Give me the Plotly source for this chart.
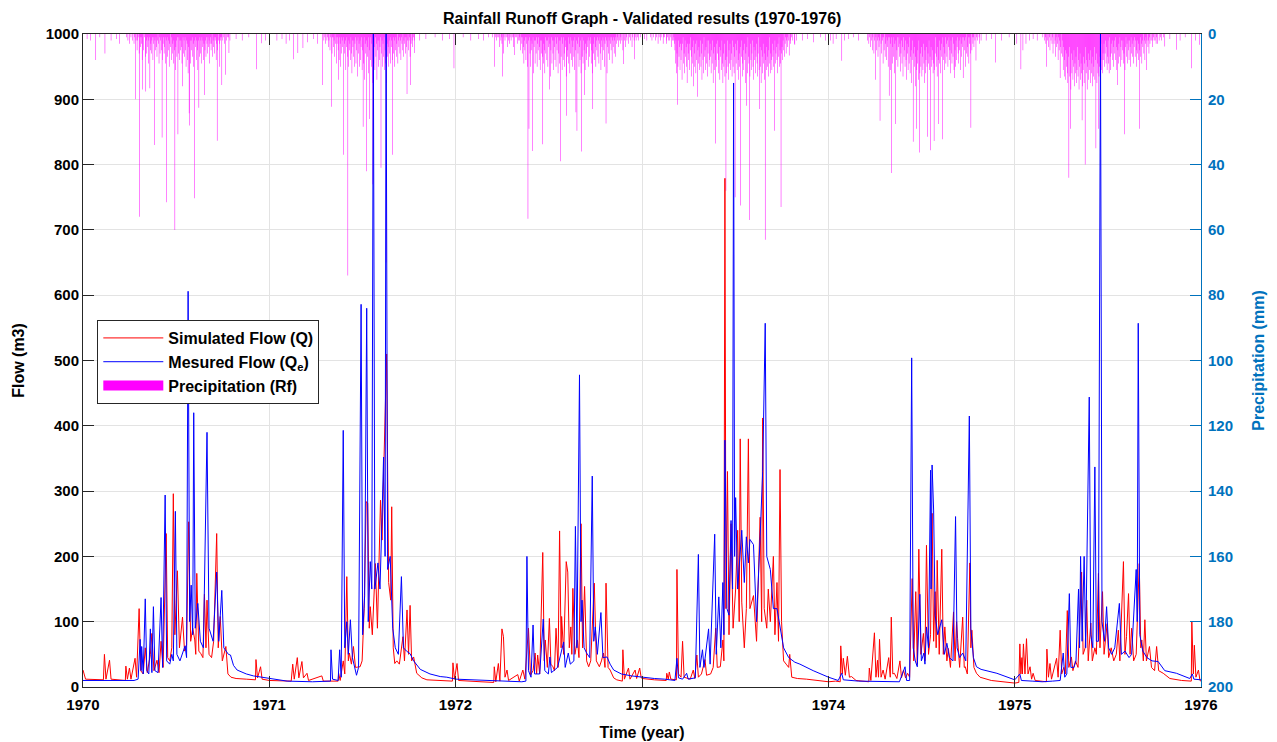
import numpy as np
import pandas as pd
import plotly.graph_objects as go

# ---------------- DATA ----------------
# day index counted from 1970-01-01
year_ticks = [1970, 1971, 1972, 1973, 1974, 1975, 1976]

# Simulated flow (Q), (day, m3) pairs
sim_1970 = [(0,26),(5,12),(40,11),(42,50),(45,12),(52,41),(55,12),(83,10),(84,32),(87,12),(91,29),(94,12),(102,44),(105,15),(110,120),(113,25),(118,20),(122,60),(126,22),(132,50),(135,82),(139,25),(145,41),(149,22),(153,70),(157,30),(163,235),(166,45),(170,40),(174,60),(177,296),(180,80),(185,178),(189,60),(195,107),(199,55),(203,65),(207,253),(211,70),(215,90),(219,72),(221,50),(223,174),(227,55),(231,51),(235,45),(238,142),(241,60),(243,133),(247,50),(252,45),(256,70),(262,235),(265,60),(269,108),(273,40),(280,62),(284,20),(290,15),(300,13),(320,12),(338,11),(339,42),(342,14),(348,31),(351,12)]
sim_1971 = [(365,10),(408,9),(411,35),(414,12),(420,45),(423,14),(429,39),(432,14),(439,21),(442,10),(468,17),(471,9),(500,9),(501,21),(504,10),(510,40),(513,20),(517,169),(520,40),(522,52),(526,35),(530,62),(534,30),(543,31),(547,40),(551,120),(555,284),(558,281),(561,90),(563,123),(567,80),(573,189),(577,90),(583,286),(586,225),(590,355),(595,510),(599,160),(603,133),(605,276),(608,60),(611,36),(615,40),(620,35),(627,77),(630,40),(635,118),(638,50),(641,125),(644,40),(648,46),(654,21),(664,14),(674,11),(700,10),(724,9),(725,37),(728,12),(733,36)]
sim_1972 = [(736,10),(780,8),(805,7),(806,31),(809,8),(814,36),(817,9),(821,89),(824,77),(827,15),(831,26),(834,10),(852,19),(855,9),(862,26),(866,12),(873,90),(877,18),(882,25),(886,52),(889,20),(891,49),(895,20),(901,206),(904,40),(906,72),(910,30),(914,105),(917,35),(921,31),(924,25),(927,90),(931,30),(934,239),(937,60),(938,108),(942,50),(947,192),(950,176),(953,60),(956,92),(958,50),(960,151),(964,50),(969,72),(972,45),(976,250),(979,60),(983,154),(987,40),(991,31),(995,40),(1002,159),(1006,40),(1012,31),(1016,40),(1020,52),(1023,30),(1025,159),(1029,30),(1033,26),(1040,14),(1046,11),(1057,9),(1058,57),(1061,12),(1069,29),(1072,12),(1082,26),(1085,13),(1091,29),(1094,14)]
sim_1973 = [(1096,13),(1120,11),(1143,10),(1144,21),(1147,12),(1149,23),(1152,12),(1163,11),(1164,180),(1167,20),(1172,15),(1175,70),(1178,15),(1190,12),(1196,26),(1199,13),(1203,49),(1206,15),(1212,20),(1219,42),(1222,18),(1230,20),(1235,30),(1240,90),(1243,30),(1249,31),(1254,72),(1256,40),(1258,779),(1260,120),(1263,330),(1266,80),(1270,250),(1274,90),(1279,150),(1283,240),(1286,100),(1288,380),(1291,130),(1296,60),(1300,120),(1304,380),(1307,120),(1314,140),(1320,70),(1327,260),(1330,100),(1332,412),(1335,120),(1340,90),(1343,150),(1347,100),(1353,200),(1356,80),(1360,160),(1363,70),(1366,333),(1369,100),(1373,40),(1378,35),(1383,30),(1385,50),(1389,15),(1400,13),(1418,12)]
sim_1974 = [(1461,8),(1475,9),(1484,8),(1485,63),(1488,20),(1490,44),(1494,18),(1498,47),(1502,15),(1506,16),(1515,10),(1540,8),(1541,29),(1544,10),(1551,83),(1554,15),(1557,41),(1559,15),(1561,73),(1564,15),(1568,26),(1572,12),(1579,45),(1582,15),(1584,107),(1587,20),(1590,21),(1595,13),(1601,40),(1604,14),(1608,26),(1612,14),(1616,21),(1620,15),(1625,166),(1628,40),(1632,146),(1635,35),(1638,211),(1642,50),(1647,82),(1650,40),(1653,217),(1657,50),(1661,80),(1664,266),(1667,70),(1670,146),(1672,60),(1674,194),(1678,50),(1683,211),(1686,50),(1689,92),(1693,40),(1696,59),(1700,30),(1706,115),(1709,40),(1712,100),(1714,74),(1718,30),(1724,107),(1727,30),(1729,31),(1733,20),(1738,190),(1740,60),(1742,87),(1746,30),(1751,21),(1758,15),(1780,10)]
sim_1975 = [(1826,6),(1834,7),(1836,66),(1838,20),(1840,45),(1841,20),(1843,66),(1846,20),(1849,74),(1852,20),(1856,31),(1859,12),(1862,21),(1866,10),(1888,8),(1889,58),(1892,15),(1895,36),(1898,12),(1908,44),(1911,15),(1915,87),(1918,20),(1922,30),(1925,20),(1929,117),(1932,30),(1937,46),(1940,25),(1945,40),(1950,30),(1957,176),(1960,50),(1964,60),(1967,133),(1970,40),(1975,98),(1978,40),(1983,60),(1986,50),(1990,174),(1993,60),(1998,146),(2001,50),(2007,97),(2010,45),(2015,60),(2020,40),(2025,50),(2029,87),(2032,40),(2039,192),(2042,50),(2045,77),(2049,143),(2052,50),(2055,90),(2059,40),(2064,50),(2070,189),(2073,60),(2075,72),(2078,40),(2081,103),(2084,40),(2090,62),(2094,30),(2100,25),(2104,62),(2108,25),(2117,21),(2130,13),(2153,10),(2172,9),(2173,100),(2176,20),(2178,64),(2181,15),(2186,26),(2189,10),(2191,9)]

# Measured flow (Qe), (day, m3) pairs
obs_1970 = [(0,10),(30,10),(60,9),(100,10),(108,12),(112,73),(114,25),(115,62),(118,20),(122,135),(125,25),(129,20),(132,89),(135,22),(138,123),(141,25),(147,22),(153,137),(156,30),(161,294),(164,40),(170,35),(174,50),(177,40),(181,269),(184,50),(190,40),(195,50),(200,63),(203,45),(206,606),(209,100),(212,156),(215,80),(217,420),(220,90),(225,128),(230,70),(236,60),(243,390),(247,90),(255,70),(262,176),(266,70),(272,148),(276,60),(285,50),(289,49),(295,33),(302,26),(320,20),(334,17)]
obs_1971 = [(365,13),(400,9),(450,8),(485,9),(486,57),(489,12),(500,10),(503,57),(506,15),(510,393),(513,60),(517,100),(520,50),(524,103),(528,45),(536,18),(540,30),(545,586),(548,80),(552,140),(556,580),(559,100),(563,192),(566,150),(569,1000),(572,150),(578,190),(582,150),(586,260),(589,352),(592,200),(594,1000),(597,180),(602,200),(607,90),(612,60),(618,50),(624,169),(628,60),(634,55),(641,51),(648,40),(661,27),(680,20),(700,16),(713,15)]
obs_1972 = [(731,12),(760,11),(800,9),(830,8),(860,8),(868,9),(870,200),(873,25),(878,15),(882,95),(885,20),(895,20),(902,104),(905,25),(912,20),(915,46),(918,22),(930,30),(942,69),(945,30),(951,52),(955,35),(962,40),(965,246),(968,60),(973,478),(976,100),(978,133),(982,60),(987,52),(993,45),(998,323),(1001,70),(1004,92),(1008,50),(1015,114),(1019,45),(1027,46),(1033,35),(1040,26),(1055,20),(1075,17)]
obs_1973 = [(1096,15),(1120,13),(1140,12),(1160,10),(1164,44),(1167,14),(1175,12),(1183,21),(1186,12),(1200,14),(1206,203),(1209,30),(1214,57),(1217,30),(1226,89),(1229,35),(1238,234),(1241,50),(1246,138),(1250,60),(1254,160),(1256,80),(1258,378),(1262,120),(1266,110),(1270,255),(1273,150),(1275,925),(1277,200),(1279,290),(1283,150),(1291,240),(1296,160),(1300,230),(1304,190),(1307,226),(1314,218),(1320,100),(1327,230),(1332,330),(1337,557),(1340,200),(1347,180),(1353,120),(1360,120),(1366,90),(1370,75),(1373,60),(1383,45),(1395,38),(1405,35),(1431,25)]
obs_1974 = [(1461,15),(1480,10),(1487,21),(1490,11),(1520,9),(1560,8),(1600,8),(1611,31),(1614,10),(1620,10),(1624,504),(1627,60),(1631,40),(1635,31),(1640,142),(1643,40),(1648,52),(1650,35),(1653,92),(1657,60),(1661,332),(1662,150),(1664,340),(1667,271),(1670,110),(1675,80),(1683,103),(1688,50),(1693,67),(1698,45),(1705,40),(1710,261),(1713,60),(1718,45),(1724,52),(1730,40),(1737,415),(1740,90),(1745,45),(1751,31),(1760,27),(1791,21)]
obs_1975 = [(1826,11),(1836,20),(1839,10),(1860,9),(1880,8),(1900,9),(1915,10),(1921,52),(1924,15),(1928,20),(1933,143),(1936,30),(1942,30),(1946,40),(1951,150),(1953,60),(1955,200),(1958,70),(1962,200),(1965,60),(1972,444),(1975,80),(1979,60),(1983,337),(1986,70),(1990,70),(1994,1000),(1997,100),(2002,70),(2006,123),(2010,60),(2016,50),(2022,60),(2031,128),(2035,50),(2042,55),(2050,45),(2055,50),(2064,180),(2066,100),(2068,557),(2071,80),(2077,55),(2085,45),(2095,40),(2107,39),(2120,25),(2143,21),(2169,13),(2174,20),(2177,12),(2191,11)]

# Precipitation (Rf): daily values (mm) in each wet season, starting day + list
rain_1970_start = 84
rain_1970 = [0,1,0,0,2,0,0,3,0,0, 1,0,0,2,0,0,3,1,0,4, 2,0,5,2,1,0,6,3,1,4, 1,3,8,2,0,5,1,0,7,3,
             2,6,1,4,9,2,1,0,5,3, 6,2,1,8,3,1,10,2,5,1, 4,7,2,0,3,9,1,6,2,1, 5,2,8,3,1,6,4,1,9,2,
             3,1,7,5,2,10,3,0,4,8, 1,6,3,9,2,5,1,11,4,2, 7,1,3,6,1,8,2,5,2,4, 9,3,1,6,2,7,1,5,10,2,
             3,8,12,4,1,6,2,9,2,5, 1,7,3,10,2,6,4,1,8,2, 5,11,2,3,7,1,6,2,9,1, 4,2,8,3,1,5,2,7,1,3,
             6,1,4,2,9,3,1,5,3,0, 7,2,4,1,6,2,1,8,3,1, 5,2,0,3,10,1,2,1,4,0, 2,0,1,3,0,1,0,2,0,1,
             0,1,0,0,2,0,0]
rain_1971_start = 470
rain_1971 = [0,0,2,0,1,3,0,0,2,1, 0,4,2,0,5,1,0,3,6,1, 1,4,2,7,0,3,1,9,3,1, 5,2,8,1,3,10,1,6,2,4,
             1,9,3,6,2,11,4,1,7,2, 10,2,5,3,8,1,6,12,2,4, 7,2,10,3,1,9,5,2,13,1, 6,3,10,2,8,4,1,11,5,2,
             9,1,14,3,6,2,10,4,7,1, 12,2,5,8,1,10,3,15,6,2, 9,4,11,1,7,3,14,5,2,10, 2,8,4,1,12,6,2,10,3,7,
             1,11,5,9,2,15,3,7,4,10, 2,6,1,9,4,2,8,3,1,6, 10,2,5,1,7,3,0,9,2,4, 1,6,2,8,1,3,5,0,7,2,
             3,1,6,1,4,9,2,0,5,2, 1,7,0,3,0,2,4,0,1,2, 0]
rain_1972_start = 800
rain_1972 = [0,0,0,1,0,0,2,0,0,1, 2,0,0,1,0,1,4,0,0,2, 1,3,0,0,6,1,0,2,0,1, 0,1,4,0,2,0,3,1,0,2,
             0,1,0,1,4,0,2,0,1,0, 1,3,0,2,0,2,1,5,0,1, 3,6,1,4,9,2,5,1,8,3, 1,10,4,2,7,1,6,10,2,5,
             3,8,1,12,4,2,9,2,6,1, 10,3,5,1,8,4,11,2,6,2, 7,1,9,3,5,12,1,6,2,8, 2,10,4,1,7,3,13,5,1,9,
             2,6,11,2,4,8,1,10,3,5, 1,12,6,2,9,2,5,7,1,11, 3,8,1,6,10,2,4,13,2,7, 5,1,9,3,12,6,1,8,2,10,
             4,2,7,11,1,5,9,2,14,3, 6,1,10,4,8,2,12,3,1,7, 9,2,5,1,11,3,6,8,2,4, 1,10,2,7,3,1,9,5,12,2,
             6,3,1,8,4,10,2,5,1,7, 2,9,3,1,6,11,2,4,8,1, 5,2,10,3,1,7,2,12,4,1, 6,2,8,1,3,5,1,9,2,4,
             1,6,2,1,7,0,3,2,1,4, 0,2,0,3,1,0,2,0,5,1, 0,2,0,4,0,1,2,0,0,3, 0,1,0,2,0,0,4,1,0,0,
             2,0,1,0,2,0,0,1,0,2, 0,0,1]
rain_1973_start = 1110
rain_1973 = [0,0,1,0,0,2,0,0,1,0, 0,0,2,0,1,0,0,3,0,1, 0,0,2,1,0,0,0,3,1,0, 1,0,0,2,3,0,1,0,2,0,
             2,0,1,4,0,2,0,2,1,3, 5,9,2,12,6,3,10,2,7,4, 11,3,8,5,14,3,1,9,6,12, 2,7,4,10,15,3,6,8,3,11,
             5,1,13,7,4,9,16,2,6,10, 3,12,8,2,15,5,9,4,11,7, 2,10,6,14,3,8,12,1,7,5, 11,4,9,2,13,6,2,10,8,3,
             7,12,5,9,2,15,6,11,4,8, 13,3,10,6,2,12,8,4,14,7, 5,11,2,9,15,6,10,3,13,8, 4,12,7,2,10,14,5,9,3,11,
             8,6,13,2,10,4,12,7,15,3, 9,5,11,2,8,14,6,10,4,12, 7,2,13,9,5,11,3,8,15,6, 10,4,12,1,7,9,5,13,3,8,
             11,6,2,10,14,4,8,5,12,7, 3,9,13,6,1,11,8,4,10,15, 5,7,12,3,9,6,14,2,8,11, 4,10,7,13,5,1,9,12,6,8,
             11,3,7,10,5,14,2,9,6,4, 8,12,3,7,1,10,5,9,0,6, 4,8,2,5,0,7,3,1,6,2, 1,4,0,2,5,0,2,3,0,1,
             0,2,0,0,3,1,0,0,2,0]
rain_1974_start = 1535
rain_1974 = [0,0,2,0,0,3,1,0,4,0, 2,0,5,1,0,6,2,0,3,1, 5,0,2,7,1,4,2,8,0,3, 6,1,2,9,1,5,0,7,3,1,
             8,2,4,10,1,6,1,11,3,5, 1,9,4,7,1,12,3,6,2,8, 5,1,10,4,1,7,3,11,6,2, 9,4,13,1,7,5,10,2,8,14,
             3,6,11,4,9,1,12,7,5,15, 8,2,13,6,10,4,16,7,3,11, 9,5,14,2,8,12,6,10,4,13, 7,11,3,9,15,5,12,8,4,10,
             13,6,9,2,11,7,14,4,10,8, 5,12,9,3,11,6,1,10,7,13, 4,8,11,2,9,5,12,3,7,10, 1,8,4,11,6,1,9,3,7,2,
             10,4,1,8,5,12,2,6,9,1, 7,3,11,1,5,10,2,8,4,1, 6,9,2,5,1,11,3,7,1,4, 8,1,5,2,10,1,6,0,4,7,
             1,9,3,1,6,2,0,5,1,3, 1,4,0,2,0,6,1,0,2,0, 0,1,3,0,0,2]
rain_1975_start = 1880
rain_1975 = [0,1,0,0,2,0,1,3,0,0, 2,0,4,0,1,5,0,2,0,3, 1,6,0,3,0,2,7,1,4,0, 3,8,1,5,2,9,4,0,6,2,
             7,11,4,13,8,5,14,10,6,12, 15,7,11,4,13,9,17,6,12,8, 14,10,5,16,9,12,7,15,11,4, 13,8,17,10,6,14,9,12,5,16,
             11,7,15,9,13,4,12,8,17,10, 6,14,11,8,15,5,12,9,16,7, 13,10,4,14,8,11,6,15,9,12, 5,13,10,7,14,3,11,8,12,6,
             8,3,10,6,2,9,4,11,7,2, 9,5,1,7,11,3,6,2,8,4, 10,2,6,1,8,4,11,2,5,9, 3,7,1,10,4,2,8,5,2,9,
             6,2,11,4,1,7,3,9,2,5, 8,2,4,10,1,6,3,7,2,9, 4,1,7,2,5,10,2,6,3,8, 2,5,1,7,3,9,2,4,0,6,
             2,8,3,1,5,2,0,4,2,6, 1,3,0,2,0,2,4,0,1,2, 0,2,0,3,1,0,3,0,0,2, 0,0,1,0,2,0,0,1,0,0]

# individual (larger / off-season) rain events: (day, mm)
rain_events = [(8,1.5),(15,2),(25,8),(33,1),(43,6),(55,2),(66,1.5),(72,3),(103,20),(111,56),(117,17),(123,17.6),(131,16.6),(140,34),(155,31.7),(164,51.5),(180,60),(186,30.7),(195,16),(208,24.3),(209,28),(219,50.3),(227,22.6),(238,18.7),(263,32.7),(272,15.6),(279,12.5),(286,5.8),(300,1.5),(312,2),(325,1),(340,10.8),(350,2.8),(358,2),
               (380,2),(390,1.5),(398,3),(405,2),(413,7.7),(421,5.8),(431,4.3),(440,2.5),(452,1.5),(460,3),(469,15.6),(487,22.3),(501,14),(511,37),(519,74),(549,28.4),(556,42),(561,26),(568,46),(584,41),(594,70),(607,37),(635,18.4),(642,15.6),(650,5.8),(660,2),(672,1.5),(690,1),(705,2),(718,1.5),(727,10.5),
               (745,1),(760,2),(775,1.5),(785,2),(795,1),(806,10),(822,13),(846,6.4),(872,56.6),(874,29),(881,35.8),(901,33.8),(914,17),(936,39),(948,25),(966,24),(968,29.6),(977,36),(983,18.7),(999,23),(1025,27.4),(1059,9.2),(1081,7.7),
               (1100,1.5),(1105,2),(1165,21.7),(1204,19.2),(1240,33.5),(1260,48),(1278,50),(1289,52.5),(1300,22),(1306,57),(1326,23),(1337,63),(1355,29.6),(1368,53),(1384,6.6),(1395,3.3),(1410,2),(1420,1.5),(1432,2.5),(1445,1),(1455,2),
               (1465,2),(1470,3),(1476,1.5),(1487,8.2),(1492,2),(1500,1.5),(1510,1),(1520,2),(1553,14),(1562,26.6),(1580,18.9),(1584,42.6),(1592,27.6),(1602,11.5),(1627,33),(1633,29),(1639,36.3),(1655,31.5),(1661,35.6),(1668,32.8),(1677,27.6),(1684,32.2),(1708,13.5),(1725,13.5),(1740,28.7),(1750,8.1),(1770,2),(1780,1.5),(1788,8.7),(1800,2),(1815,1),(1830,3),
               (1838,10.8),(1842,5),(1848,3),(1855,2),(1862,1.5),(1870,2),(1888,10),(1915,13.5),(1932,44),(1935,29),(1958,26.4),(1964,40),(1985,35),(1990,29),(2011,12),(2027,15.6),(2041,30.7),(2070,29),(2084,11),(2120,3.8),(2130,1.5),(2143,4.8),(2150,2),(2160,1),(2172,10.5),(2180,2),(2188,3.3)]

# ---------------- assemble ----------------
base = pd.Timestamp("1970-01-01")

def to_dates(days):
    return base + pd.to_timedelta(np.asarray(days, dtype=float), unit="D")

sim = sim_1970 + sim_1971 + sim_1972 + sim_1973 + sim_1974 + sim_1975
obs = obs_1970 + obs_1971 + obs_1972 + obs_1973 + obs_1974 + obs_1975
sim_days, sim_vals = zip(*sim)
obs_days, obs_vals = zip(*obs)

rain = np.zeros(2192)
for start, vals in [(rain_1970_start, rain_1970), (rain_1971_start, rain_1971), (rain_1972_start, rain_1972),
                    (rain_1973_start, rain_1973), (rain_1974_start, rain_1974), (rain_1975_start, rain_1975)]:
    rain[start:start + len(vals)] = np.maximum(rain[start:start + len(vals)], vals)
for d, v in rain_events:
    rain[d] = max(rain[d], v)
rain_days = np.nonzero(rain)[0]
rain_vals = rain[rain_days]

FONT = "Liberation Sans, Arial, Helvetica, sans-serif"
MBLUE = "#0072BD"
AX = "#262626"
GRID = "#e3e3e3"

fig = go.Figure()
fig.add_trace(go.Bar(
    x=to_dates(rain_days), y=rain_vals, width=86400000.0,
    marker=dict(color="rgba(255,0,255,0.97)", line=dict(width=0)),
    name="Precipitation (Rf)", yaxis="y", showlegend=False))
fig.add_trace(go.Scatter(
    x=to_dates(sim_days), y=sim_vals, mode="lines",
    line=dict(color="#FF0000", width=1), name="Simulated Flow (Q)",
    yaxis="y2", legendrank=1))
fig.add_trace(go.Scatter(
    x=to_dates(obs_days), y=obs_vals, mode="lines",
    line=dict(color="#0000FF", width=1), name="Mesured Flow (Q<sub>e</sub>)",
    yaxis="y2", legendrank=2))
# legend swatch for the precipitation bars (wide filled rectangle)
fig.add_trace(go.Scatter(
    x=[None], y=[None], mode="lines",
    line=dict(color="#FF00FF", width=16), name="Precipitation (Rf)",
    yaxis="y2", legendrank=3, hoverinfo="skip"))

fig.update_layout(
    width=1277, height=742,
    margin=dict(l=83, r=76, t=34, b=55, autoexpand=False),
    paper_bgcolor="white", plot_bgcolor="white",
    bargap=0.2,
    font=dict(family=FONT, color="black"),
    title=dict(text="Rainfall Runoff Graph - Validated results (1970-1976)",
               x=0.5029, xanchor="center", y=0.975, yanchor="middle",
               font=dict(size=16, weight="bold", color="black")),
    xaxis=dict(
        type="date", range=[base, pd.Timestamp("1976-01-01")],
        tickvals=[pd.Timestamp(f"{y}-01-01") for y in year_ticks],
        ticktext=[str(y) for y in year_ticks],
        showgrid=True, gridcolor=GRID, gridwidth=1,
        showline=True, linecolor=AX, linewidth=1, mirror="ticks",
        ticks="inside", ticklen=11, tickcolor=AX, ticklabelstandoff=4,
        tickfont=dict(size=15, weight="bold", color="black"),
        title=dict(text="Time (year)", font=dict(size=16, weight="bold"), standoff=14),
        zeroline=False, automargin=False),
    yaxis=dict(
        side="right", range=[200, 0], tickvals=list(range(0, 201, 20)),
        showgrid=False, zeroline=False,
        showline=True, linecolor=MBLUE, linewidth=1,
        ticks="inside", ticklen=11, tickcolor=MBLUE, ticklabelstandoff=3,
        tickfont=dict(size=15, weight="bold", color=MBLUE),
        title=dict(text="Precipitation (mm)", font=dict(size=16, weight="bold", color=MBLUE), standoff=20),
        automargin=False),
    yaxis2=dict(
        overlaying="y", side="left", range=[0, 1000], tickvals=list(range(0, 1001, 100)),
        showgrid=True, gridcolor=GRID, gridwidth=1, zeroline=False,
        showline=True, linecolor=AX, linewidth=1,
        ticks="inside", ticklen=11, tickcolor=AX,
        tickfont=dict(size=15, weight="bold", color="black"),
        title=dict(text="Flow (m3)", font=dict(size=16, weight="bold"), standoff=17),
        automargin=False),
    legend=dict(x=0.0128, y=0.562, xanchor="left", yanchor="top",
                bgcolor="white", bordercolor=AX, borderwidth=1,
                font=dict(size=16, weight="bold", color="black"),
                tracegroupgap=0, itemwidth=60),
    showlegend=True,
)

fig.write_html("out.html", config={"displayModeBar": False},
               post_script="document.body.style.margin='0px';")
